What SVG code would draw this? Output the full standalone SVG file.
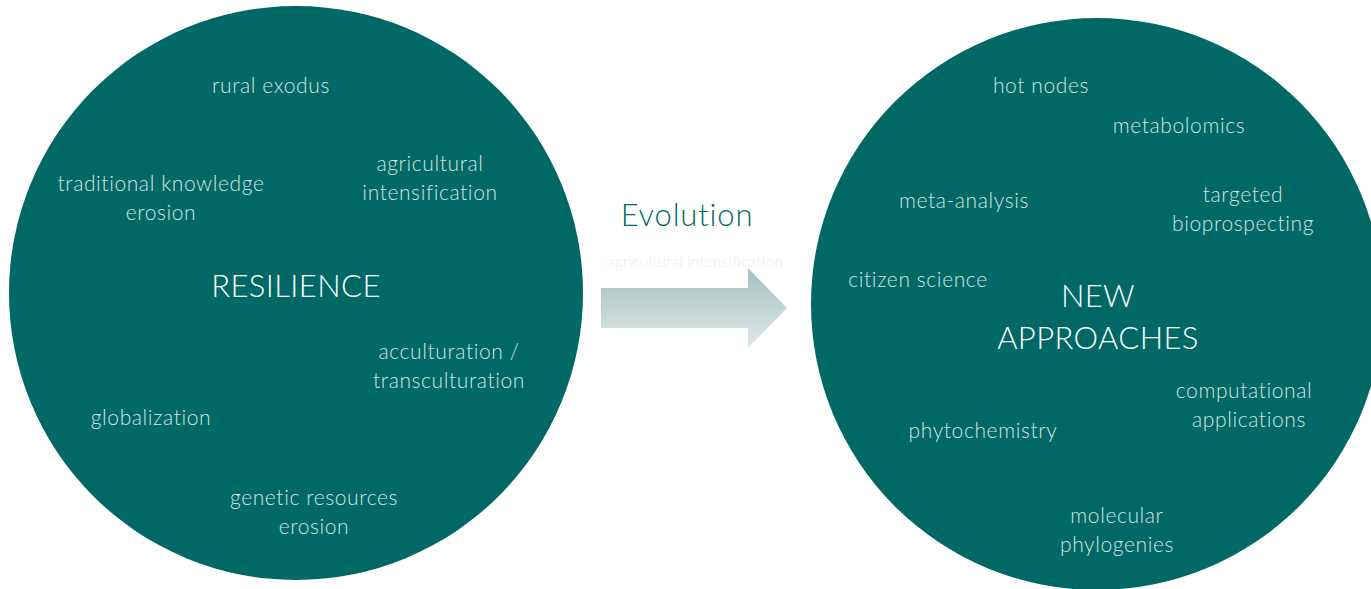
<svg xmlns="http://www.w3.org/2000/svg" width="1371" height="589" viewBox="0 0 1371 589">
<defs>
<linearGradient id="arrowGrad" x1="0" y1="0" x2="0" y2="1">
<stop offset="0" stop-color="#a4c0bf"/>
<stop offset="1" stop-color="#dfe9e8"/>
</linearGradient>
<style>
.circle{fill:#006865;}
.t{font-family:Lato,"Open Sans","Liberation Sans",sans-serif;font-weight:300;font-size:21px;letter-spacing:0.6px;fill:#d3e4e1;text-anchor:middle;}
.title{font-family:Lato,"Open Sans","Liberation Sans",sans-serif;font-weight:300;font-size:31px;letter-spacing:0.4px;fill:#ffffff;text-anchor:middle;}
.evo{font-family:Lato,"Open Sans","Liberation Sans",sans-serif;font-weight:300;font-size:31px;letter-spacing:0.8px;fill:#006b67;text-anchor:middle;}
.faint{font-family:Lato,"Open Sans","Liberation Sans",sans-serif;font-size:15.5px;fill:#f1f5f5;text-anchor:middle;}
</style>
</defs>
<rect width="1371" height="589" fill="#ffffff"/>
<g id="resilience">
<circle class="circle" cx="296" cy="293" r="287"/>
<text class="title" x="296" y="297">RESILIENCE</text>
<text class="t" x="271" y="93">rural exodus</text>
<text class="t" x="430" y="171">agricultural</text>
<text class="t" x="430" y="200">intensification</text>
<text class="t" x="161" y="191">traditional knowledge</text>
<text class="t" x="161" y="220">erosion</text>
<text class="t" x="449" y="359">acculturation /</text>
<text class="t" x="449" y="388">transculturation</text>
<text class="t" x="151" y="425">globalization</text>
<text class="t" x="314" y="505">genetic resources</text>
<text class="t" x="314" y="534">erosion</text>
</g>
<g id="connectors">
<text class="evo" x="687" y="226">Evolution</text>
<text class="faint" x="695" y="267">agricultural intensification</text>
<path d="M601,288 H748 V268 L787,308 L748,348 V328 H601 Z" fill="url(#arrowGrad)"/>
</g>
<g id="new-approaches">
<circle class="circle" cx="1097" cy="304" r="286"/>
<text class="title" x="1098" y="307">NEW</text>
<text class="title" x="1098" y="349">APPROACHES</text>
<text class="t" x="1041" y="93">hot nodes</text>
<text class="t" x="1179" y="133">metabolomics</text>
<text class="t" x="964" y="208">meta-analysis</text>
<text class="t" x="1243" y="202">targeted</text>
<text class="t" x="1243" y="231">bioprospecting</text>
<text class="t" x="918" y="287">citizen science</text>
<text class="t" x="1244" y="398">computational</text>
<text class="t" x="1249" y="427">applications</text>
<text class="t" x="983" y="438">phytochemistry</text>
<text class="t" x="1117" y="523">molecular</text>
<text class="t" x="1117" y="552">phylogenies</text>
</g>
</svg>
